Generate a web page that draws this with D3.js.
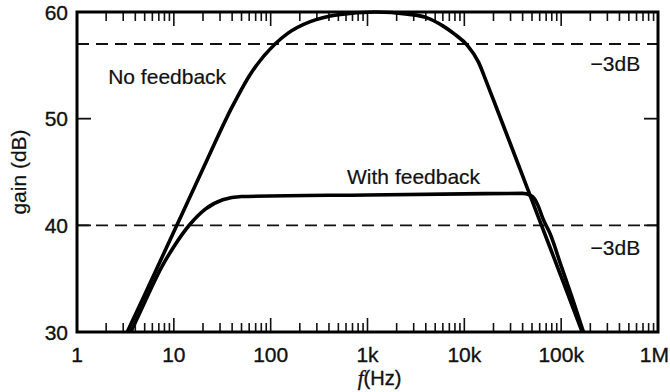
<!DOCTYPE html>
<html>
<head>
<meta charset="utf-8">
<script src="https://cdn.jsdelivr.net/npm/d3@7"></script>
<style>
  body { margin: 0; background: #fff; }
  text { font-family: "Liberation Sans", Arial, sans-serif; fill: #111; stroke: #111; stroke-width: 0.35px; }
</style>
</head>
<body>
<div id="graf"></div>
<script>
// datos: [frecuencia Hz, ganancia dB]
sinRealim = [
  [3.3, 30], [5, 33.5], [10, 39.4], [20, 45.3], [40, 51.1], [61, 54.1],
  [111, 57], [150, 58], [256, 59.1], [500, 59.75], [1200, 60], [2600, 59.8],
  [4000, 59.5], [6000, 58.7], [8000, 57.9], [10700, 56.9], [14000, 55.3],
  [17000, 53.4], [20000, 51.75], [30000, 47.6], [60000, 40.45],
  [100000, 35.2], [165000, 30]
]
conRealim = [
  [3.6, 30], [5, 32.8], [7.5, 36.1], [10, 38.0], [14.7, 40.1], [21, 41.5],
  [32, 42.4], [50, 42.7], [1000, 42.85], [10000, 42.95], [40000, 43.0],
  [47000, 42.85], [53000, 42.5], [58000, 41.8], [65000, 40.6], [77000, 39.2],
  [100000, 36.2], [130000, 33.2], [170000, 30]
]
decadas    = [1, 10, 100, 1e3, 1e4, 1e5, 1e6]
etiquetasX = ['1', '10', '100', '1k', '10k', '100k', '1M']
ticksY     = [30, 40, 50, 60]
marcasY    = [40, 50]
lineas3dB  = [57, 40]
textos = [
  { t: 'No feedback',   f: 2.1,    g: 53.25, anchor: 'start' },
  { t: 'With feedback', f: 615,    g: 43.9,  anchor: 'start' },
  { t: '\u22123dB',     f: 655000, g: 54.45, anchor: 'end' },
  { t: '\u22123dB',     f: 655000, g: 37.2,  anchor: 'end' }
]

// margenes y tamaño
ancho_total = 670
alto_total = 392
margins = { top: 12, left: 77, right: 12, bottom: 60 }
ancho = ancho_total - margins.left - margins.right
alto = alto_total - margins.top - margins.bottom

svg = d3.select('#graf').append('svg')
  .attr('width', ancho_total)
  .attr('height', alto_total)

g = svg.append('g')
  .attr('transform', `translate(${margins.left}, ${margins.top})`)

// escalas
x = d3.scaleLog().domain([1, 1e6]).range([0, ancho])
y = d3.scaleLinear().domain([30, 60]).range([alto, 0])

// marcas menores y mayores del eje x
marcasX = []
decadas.slice(0, -1).forEach(d => {
  for (k = 2; k <= 9; k++) marcasX.push({ v: d * k, largo: 9 })
})
decadas.slice(1, -1).forEach(d => marcasX.push({ v: d, largo: 14 }))

// abajo
g.selectAll('line.mabajo')
  .data(marcasX)
  .enter().append('line')
    .attr('class', 'mabajo')
    .attr('x1', d => x(d.v))
    .attr('x2', d => x(d.v))
    .attr('y1', alto)
    .attr('y2', d => alto - d.largo)
    .attr('stroke', '#111')
    .attr('stroke-width', 1.6)

// arriba
g.selectAll('line.marriba')
  .data(marcasX)
  .enter().append('line')
    .attr('class', 'marriba')
    .attr('x1', d => x(d.v))
    .attr('x2', d => x(d.v))
    .attr('y1', 0)
    .attr('y2', d => d.largo)
    .attr('stroke', '#111')
    .attr('stroke-width', 1.6)

// marcas del eje y (izquierda y derecha)
;[[0, 14], [ancho, -14]].forEach(([x0, l]) => {
  g.selectAll(null)
    .data(marcasY)
    .enter().append('line')
      .attr('x1', x0)
      .attr('x2', x0 + l)
      .attr('y1', d => y(d))
      .attr('y2', d => y(d))
      .attr('stroke', '#111')
      .attr('stroke-width', 1.8)
})

// etiquetas de los ejes (la ultima pegada al borde)
ultima = decadas.length - 1
g.selectAll('text.etx')
  .data(decadas)
  .enter().append('text')
    .attr('class', 'etx')
    .attr('x', (d, i) => i == ultima ? x(d) + 11 : x(d))
    .attr('y', alto + 30)
    .attr('text-anchor', (d, i) => i == ultima ? 'end' : 'middle')
    .style('font-size', '21px')
    .text((d, i) => etiquetasX[i])

g.selectAll('text.ety')
  .data(ticksY)
  .enter().append('text')
    .attr('class', 'ety')
    .attr('x', -9)
    .attr('y', d => y(d))
    .attr('dy', '0.36em')
    .attr('text-anchor', 'end')
    .style('font-size', '21px')
    .text(d => d)

// titulos
tituloX = g.append('text')
  .attr('x', ancho / 2 + 12)
  .attr('y', alto + 53)
  .attr('text-anchor', 'middle')
  .style('font-size', '20px')
tituloX.append('tspan').text('f').style('font-family', '"Liberation Serif", serif').style('font-style', 'italic').style('font-size', '21px')
tituloX.append('tspan').text('(Hz)')

svg.append('text')
  .attr('transform', `translate(26, ${margins.top + y(45)}) rotate(-90)`)
  .attr('text-anchor', 'middle')
  .style('font-size', '21px')
  .style('stroke-width', '0.2px')
  .text('gain (dB)')

// lineas de -3dB
g.selectAll('line.db3')
  .data(lineas3dB)
  .enter().append('line')
    .attr('class', 'db3')
    .attr('x1', 0)
    .attr('x2', ancho)
    .attr('y1', d => y(d))
    .attr('y2', d => y(d))
    .attr('stroke', '#111')
    .attr('stroke-width', 1.8)
    .attr('stroke-dasharray', '12,7')

// curvas
linea = d3.line()
  .x(d => x(d[0]))
  .y(d => y(d[1]))
  .curve(d3.curveMonotoneX)

;[sinRealim, conRealim].forEach(serie => {
  g.append('path')
    .datum(serie)
    .attr('d', linea)
    .attr('fill', 'none')
    .attr('stroke', '#000')
    .attr('stroke-width', 3.6)
    .attr('stroke-linejoin', 'round')
})

// textos dentro de la grafica
g.selectAll('text.anot')
  .data(textos)
  .enter().append('text')
    .attr('class', 'anot')
    .attr('x', d => x(d.f))
    .attr('y', d => y(d.g))
    .attr('text-anchor', d => d.anchor)
    .style('font-size', '21px')
    .style('stroke-width', '0.2px')
    .text(d => d.t)

// marco
g.append('rect')
  .attr('x', 0)
  .attr('y', 0)
  .attr('width', ancho)
  .attr('height', alto)
  .attr('fill', 'none')
  .attr('stroke', '#000')
  .attr('stroke-width', 3)
</script>
</body>
</html>
